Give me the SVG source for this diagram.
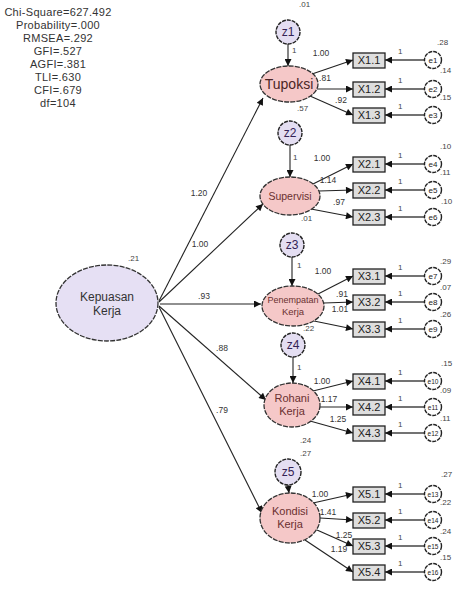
<svg xmlns="http://www.w3.org/2000/svg" width="454" height="591" viewBox="0 0 454 591">
<defs>
<marker id="ah" viewBox="0 0 10 10" refX="10" refY="5" markerWidth="9" markerHeight="7" markerUnits="userSpaceOnUse" orient="auto"><path d="M0,0 L10,5 L0,10 z" fill="#111"/></marker>
</defs>
<style>
text{font-family:"Liberation Sans",Arial,sans-serif;fill:#222}
.fit{font-size:11px;letter-spacing:0.3px;text-anchor:middle;fill:#333}
.lat2{fill:#f5c8c8;stroke:#333;stroke-width:1.3;stroke-dasharray:5 1.2}
.lat1{fill:#e6e0f4;stroke:#333;stroke-width:1.3;stroke-dasharray:5 1.2}
.zc{fill:#e4def2;stroke:#222;stroke-width:1.4;stroke-dasharray:4 1}
.ec{fill:#fff;stroke:#222;stroke-width:1.4;stroke-dasharray:4 1}
.box{fill:#dedede;stroke:#222;stroke-width:1.3}
.lt{text-anchor:middle;fill:#6a3030}
.bt{font-size:11px;text-anchor:middle}
.et{font-size:8px;text-anchor:middle}
.et2{font-size:6.5px;text-anchor:middle}
.zt{font-size:12px;text-anchor:middle;fill:#332255}
.sm{font-size:8px;fill:#444}
.pl{font-size:8.5px;fill:#333;text-anchor:middle}
.c{stroke:#222;stroke-width:1.1;fill:none;marker-end:url(#ah)}
.ce{stroke:#444;stroke-width:1.6;fill:none;marker-end:url(#ah)}
</style>
<rect width="454" height="591" fill="#fff"/>
<g id="fit">
<text class="fit" x="58" y="16">Chi-Square=627.492</text>
<text class="fit" x="58" y="29">Probability=.000</text>
<text class="fit" x="58" y="42">RMSEA=.292</text>
<text class="fit" x="58" y="55">GFI=.527</text>
<text class="fit" x="58" y="68">AGFI=.381</text>
<text class="fit" x="58" y="81">TLI=.630</text>
<text class="fit" x="58" y="94">CFI=.679</text>
<text class="fit" x="58" y="107">df=104</text>
</g>
<g id="connectors">
<line class="c" x1="159" y1="301" x2="263" y2="98"/>
<line class="c" x1="159" y1="302" x2="263" y2="204"/>
<line class="c" x1="160" y1="304" x2="261" y2="304"/>
<line class="c" x1="159" y1="306" x2="266" y2="400"/>
<line class="c" x1="159" y1="307" x2="262" y2="513"/>
<line class="c" x1="288" y1="44" x2="288" y2="66"/>
<line class="c" x1="290" y1="145" x2="290" y2="177"/>
<line class="c" x1="292" y1="257" x2="292" y2="286"/>
<line class="c" x1="293" y1="357" x2="293" y2="383"/>
<line class="c" x1="288" y1="485" x2="289" y2="493"/>
<line class="c" x1="312" y1="74" x2="353" y2="60"/>
<line class="c" x1="317" y1="89" x2="353" y2="89"/>
<line class="c" x1="310" y1="96" x2="353" y2="115"/>
<line class="c" x1="313" y1="184" x2="353" y2="164"/>
<line class="c" x1="319" y1="191" x2="353" y2="190"/>
<line class="c" x1="311" y1="209" x2="353" y2="217"/>
<line class="c" x1="318" y1="294" x2="353" y2="276"/>
<line class="c" x1="324" y1="303" x2="353" y2="302"/>
<line class="c" x1="314" y1="321" x2="353" y2="329"/>
<line class="c" x1="313" y1="391" x2="353" y2="381"/>
<line class="c" x1="320" y1="407" x2="353" y2="407"/>
<line class="c" x1="310" y1="421" x2="353" y2="433"/>
<line class="c" x1="313" y1="503" x2="353" y2="494"/>
<line class="c" x1="320" y1="518" x2="353" y2="520"/>
<line class="c" x1="317" y1="530" x2="353" y2="546"/>
<line class="c" x1="305" y1="540" x2="353" y2="572"/>
<line class="ce" x1="424" y1="60" x2="385" y2="60"/>
<line class="ce" x1="424" y1="89" x2="385" y2="89"/>
<line class="ce" x1="424" y1="115" x2="385" y2="115"/>
<line class="ce" x1="424" y1="164" x2="385" y2="164"/>
<line class="ce" x1="424" y1="190" x2="385" y2="190"/>
<line class="ce" x1="424" y1="217" x2="385" y2="217"/>
<line class="ce" x1="424" y1="276" x2="385" y2="276"/>
<line class="ce" x1="424" y1="302" x2="385" y2="302"/>
<line class="ce" x1="424" y1="329" x2="385" y2="329"/>
<line class="ce" x1="424" y1="381" x2="385" y2="381"/>
<line class="ce" x1="424" y1="407" x2="385" y2="407"/>
<line class="ce" x1="424" y1="433" x2="385" y2="433"/>
<line class="ce" x1="424" y1="494" x2="385" y2="494"/>
<line class="ce" x1="424" y1="520" x2="385" y2="520"/>
<line class="ce" x1="424" y1="546" x2="385" y2="546"/>
<line class="ce" x1="424" y1="572" x2="385" y2="572"/>
<text class="pl" x="199" y="196">1.20</text>
<text class="pl" x="200" y="247">1.00</text>
<text class="pl" x="204" y="299">.93</text>
<text class="pl" x="222" y="351">.88</text>
<text class="pl" x="222" y="413">.79</text>
<text class="pl" x="321" y="56">1.00</text>
<text class="pl" x="325" y="81">.81</text>
<text class="pl" x="341" y="103">.92</text>
<text class="pl" x="322" y="161">1.00</text>
<text class="pl" x="328" y="183">1.14</text>
<text class="pl" x="339" y="205">.97</text>
<text class="pl" x="323" y="274">1.00</text>
<text class="pl" x="342" y="297">.91</text>
<text class="pl" x="340" y="312">1.01</text>
<text class="pl" x="322" y="384">1.00</text>
<text class="pl" x="329" y="402">1.17</text>
<text class="pl" x="338" y="422">1.25</text>
<text class="pl" x="320" y="497">1.00</text>
<text class="pl" x="328" y="515">1.41</text>
<text class="pl" x="344" y="538">1.25</text>
<text class="pl" x="339" y="552">1.19</text>
<text class="sm" x="292" y="53">1</text>
<text class="sm" x="293" y="160">1</text>
<text class="sm" x="297" y="268">1</text>
<text class="sm" x="297" y="370">1</text>
<text class="sm" x="292" y="500">1</text>
<text class="sm" x="398" y="54">1</text>
<text class="sm" x="398" y="83">1</text>
<text class="sm" x="398" y="109">1</text>
<text class="sm" x="398" y="158">1</text>
<text class="sm" x="398" y="184">1</text>
<text class="sm" x="398" y="211">1</text>
<text class="sm" x="398" y="270">1</text>
<text class="sm" x="398" y="296">1</text>
<text class="sm" x="398" y="323">1</text>
<text class="sm" x="398" y="375">1</text>
<text class="sm" x="398" y="401">1</text>
<text class="sm" x="398" y="427">1</text>
<text class="sm" x="398" y="488">1</text>
<text class="sm" x="398" y="514">1</text>
<text class="sm" x="398" y="540">1</text>
<text class="sm" x="398" y="566">1</text>
</g>
<g id="kepuasan">
<ellipse class="lat1" cx="107" cy="303" rx="51" ry="38"/>
<text class="lt" x="107" y="301" style="font-size:12px;fill:#333">Kepuasan</text>
<text class="lt" x="107" y="315" style="font-size:12px;fill:#333">Kerja</text>
<text class="sm" x="128" y="261">.21</text>
</g>
<g id="tupoksi">
<ellipse class="lat2" cx="289" cy="84" rx="29" ry="18"/>
<text class="lt" x="289" y="89" style="font-size:14px;fill:#4a2525">Tupoksi</text>
<text class="sm" x="297" y="111">.57</text>
</g>
<g id="supervisi">
<ellipse class="lat2" cx="290" cy="196" rx="30" ry="19"/>
<text class="lt" x="290" y="200" style="font-size:10.5px">Supervisi</text>
<text class="sm" x="301" y="221">.01</text>
</g>
<g id="penempatan">
<ellipse class="lat2" cx="293" cy="306" rx="31" ry="20"/>
<text class="lt" x="293" y="303" style="font-size:9px">Penempatan</text>
<text class="lt" x="293" y="315" style="font-size:9.5px">Kerja</text>
<text class="sm" x="303" y="331">.22</text>
</g>
<g id="rohani">
<ellipse class="lat2" cx="292" cy="405" rx="28" ry="22"/>
<text class="lt" x="292" y="402" style="font-size:11px">Rohani</text>
<text class="lt" x="292" y="415" style="font-size:11px">Kerja</text>
<text class="sm" x="300" y="443">.24</text>
</g>
<g id="kondisi">
<ellipse class="lat2" cx="290" cy="518" rx="30" ry="25"/>
<text class="lt" x="290" y="515" style="font-size:11px">Kondisi</text>
<text class="lt" x="290" y="528" style="font-size:11px">Kerja</text>
</g>
<g id="z1"><circle class="zc" cx="288" cy="32" r="12"/><text class="zt" x="288" y="36">z1</text><text class="sm" x="299" y="7">.01</text></g>
<g id="z2"><circle class="zc" cx="290" cy="133" r="12"/><text class="zt" x="290" y="137">z2</text></g>
<g id="z3"><circle class="zc" cx="292" cy="245" r="12"/><text class="zt" x="292" y="249">z3</text></g>
<g id="z4"><circle class="zc" cx="293" cy="345" r="12"/><text class="zt" x="293" y="349">z4</text></g>
<g id="z5"><circle class="zc" cx="288" cy="472" r="13"/><text class="zt" x="288" y="476">z5</text><text class="sm" x="300" y="456">.27</text></g>
<g id="indicators">
<g id="X1.1"><rect class="box" x="353" y="53" width="32" height="15"/><text class="bt" x="369" y="64">X1.1</text></g>
<g id="X1.2"><rect class="box" x="353" y="82" width="32" height="15"/><text class="bt" x="369" y="93">X1.2</text></g>
<g id="X1.3"><rect class="box" x="353" y="108" width="32" height="15"/><text class="bt" x="369" y="119">X1.3</text></g>
<g id="X2.1"><rect class="box" x="353" y="157" width="32" height="15"/><text class="bt" x="369" y="168">X2.1</text></g>
<g id="X2.2"><rect class="box" x="353" y="183" width="32" height="15"/><text class="bt" x="369" y="194">X2.2</text></g>
<g id="X2.3"><rect class="box" x="353" y="210" width="32" height="15"/><text class="bt" x="369" y="221">X2.3</text></g>
<g id="X3.1"><rect class="box" x="353" y="269" width="32" height="15"/><text class="bt" x="369" y="280">X3.1</text></g>
<g id="X3.2"><rect class="box" x="353" y="295" width="32" height="15"/><text class="bt" x="369" y="306">X3.2</text></g>
<g id="X3.3"><rect class="box" x="353" y="322" width="32" height="15"/><text class="bt" x="369" y="333">X3.3</text></g>
<g id="X4.1"><rect class="box" x="353" y="374" width="32" height="15"/><text class="bt" x="369" y="385">X4.1</text></g>
<g id="X4.2"><rect class="box" x="353" y="400" width="32" height="15"/><text class="bt" x="369" y="411">X4.2</text></g>
<g id="X4.3"><rect class="box" x="353" y="426" width="32" height="15"/><text class="bt" x="369" y="437">X4.3</text></g>
<g id="X5.1"><rect class="box" x="353" y="487" width="32" height="15"/><text class="bt" x="369" y="498">X5.1</text></g>
<g id="X5.2"><rect class="box" x="353" y="513" width="32" height="15"/><text class="bt" x="369" y="524">X5.2</text></g>
<g id="X5.3"><rect class="box" x="353" y="539" width="32" height="15"/><text class="bt" x="369" y="550">X5.3</text></g>
<g id="X5.4"><rect class="box" x="353" y="565" width="32" height="15"/><text class="bt" x="369" y="576">X5.4</text></g>
</g>
<g id="errors">
<g id="e1"><circle class="ec" cx="433" cy="60" r="8.5"/><text class="et" x="433" y="63">e1</text><text class="sm" x="437" y="45">.28</text></g>
<g id="e2"><circle class="ec" cx="433" cy="89" r="8.5"/><text class="et" x="433" y="92">e2</text><text class="sm" x="440" y="73">.14</text></g>
<g id="e3"><circle class="ec" cx="433" cy="115" r="8.5"/><text class="et" x="433" y="118">e3</text><text class="sm" x="440" y="100">.15</text></g>
<g id="e4"><circle class="ec" cx="433" cy="164" r="8.5"/><text class="et" x="433" y="167">e4</text><text class="sm" x="440" y="149">.10</text></g>
<g id="e5"><circle class="ec" cx="433" cy="190" r="8.5"/><text class="et" x="433" y="193">e5</text><text class="sm" x="440" y="175">.11</text></g>
<g id="e6"><circle class="ec" cx="433" cy="217" r="8.5"/><text class="et" x="433" y="220">e6</text><text class="sm" x="441" y="204">.10</text></g>
<g id="e7"><circle class="ec" cx="433" cy="276" r="8.5"/><text class="et" x="433" y="279">e7</text><text class="sm" x="440" y="264">.29</text></g>
<g id="e8"><circle class="ec" cx="433" cy="302" r="8.5"/><text class="et" x="433" y="305">e8</text><text class="sm" x="440" y="290">.07</text></g>
<g id="e9"><circle class="ec" cx="433" cy="329" r="8.5"/><text class="et" x="433" y="332">e9</text><text class="sm" x="440" y="317">.26</text></g>
<g id="e10"><circle class="ec" cx="433" cy="381" r="8.5"/><text class="et2" x="433" y="383.5">e10</text><text class="sm" x="441" y="366">.15</text></g>
<g id="e11"><circle class="ec" cx="433" cy="407" r="8.5"/><text class="et2" x="433" y="409.5">e11</text><text class="sm" x="440" y="393">.09</text></g>
<g id="e12"><circle class="ec" cx="433" cy="433" r="8.5"/><text class="et2" x="433" y="435.5">e12</text><text class="sm" x="440" y="421">.11</text></g>
<g id="e13"><circle class="ec" cx="433" cy="494" r="8.5"/><text class="et2" x="433" y="496.5">e13</text><text class="sm" x="441" y="477">.27</text></g>
<g id="e14"><circle class="ec" cx="433" cy="520" r="8.5"/><text class="et2" x="433" y="522.5">e14</text><text class="sm" x="440" y="505">.22</text></g>
<g id="e15"><circle class="ec" cx="433" cy="546" r="8.5"/><text class="et2" x="433" y="548.5">e15</text><text class="sm" x="440" y="534">.24</text></g>
<g id="e16"><circle class="ec" cx="433" cy="572" r="8.5"/><text class="et2" x="433" y="574.5">e16</text><text class="sm" x="440" y="560">.15</text></g>
</g>
</svg>
